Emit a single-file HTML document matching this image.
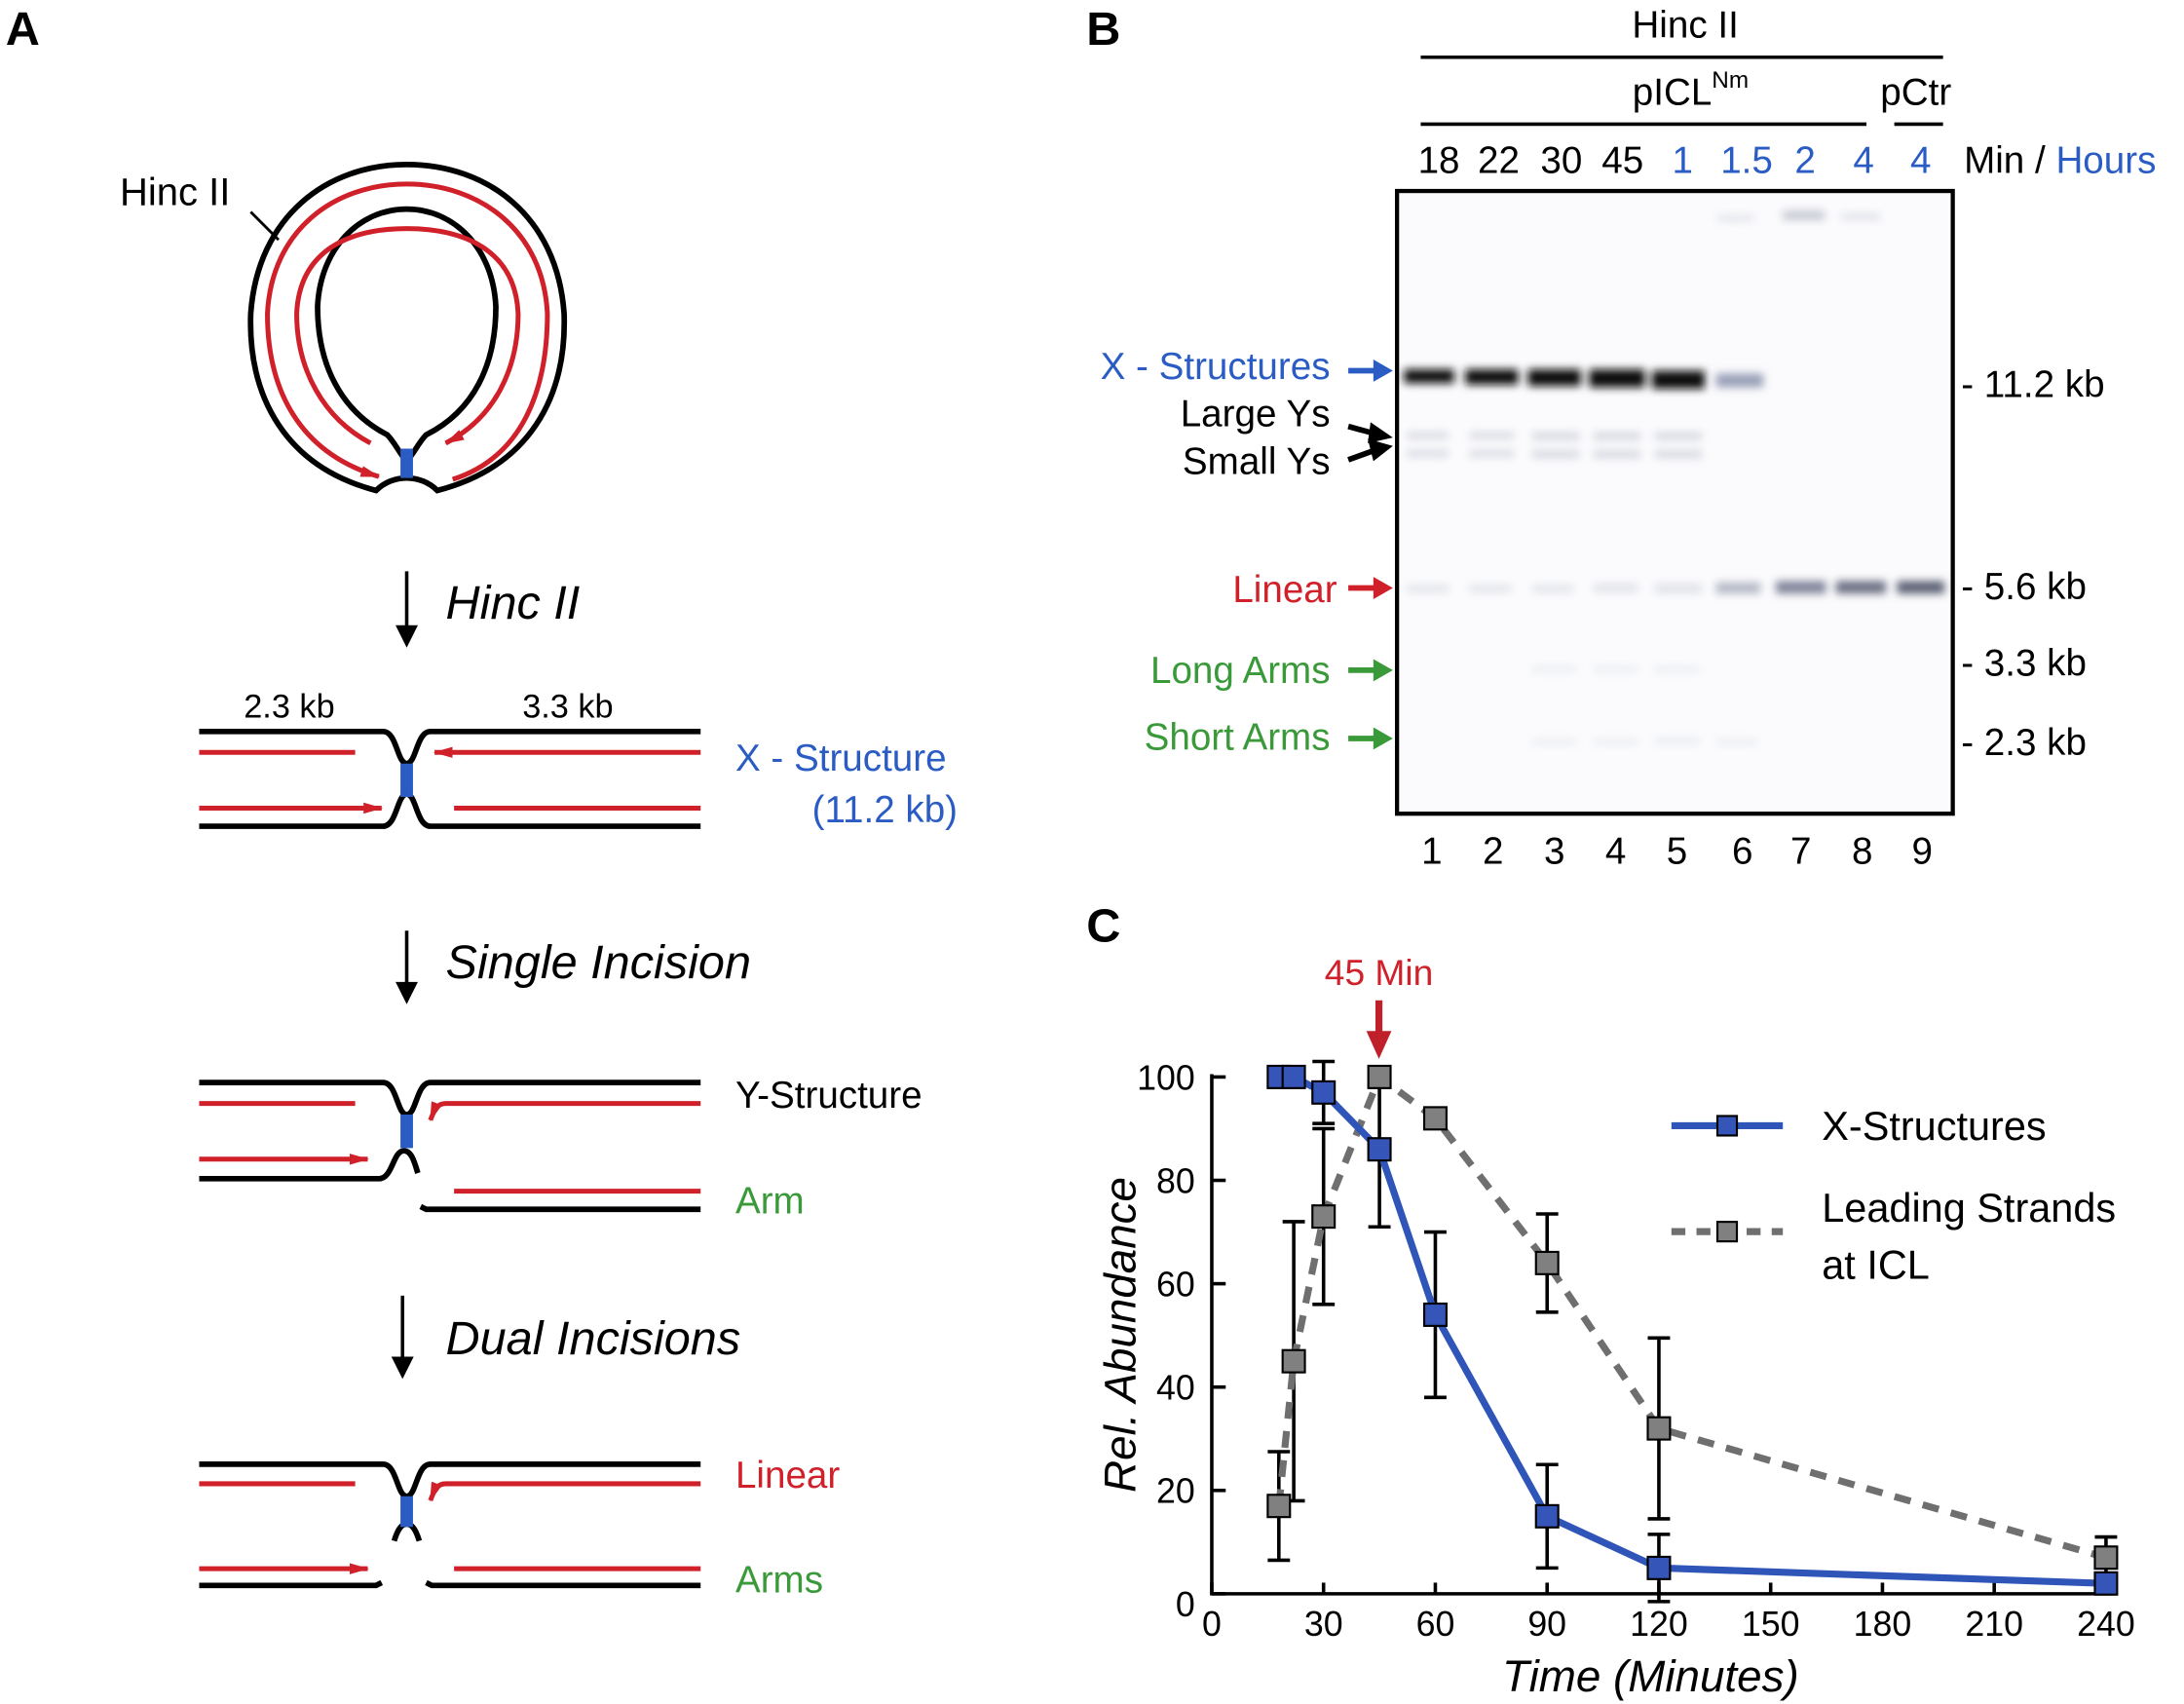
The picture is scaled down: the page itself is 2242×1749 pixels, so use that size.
<!DOCTYPE html>
<html><head><meta charset="utf-8"><style>
html,body{margin:0;padding:0;background:#fff}
svg{display:block;font-family:"Liberation Sans",sans-serif}
</style></head><body>
<svg width="2242" height="1749" viewBox="0 0 1568 1223" xmlns="http://www.w3.org/2000/svg">
<defs>
<filter id="blur" x="-20%" y="-300%" width="140%" height="700%"><feGaussianBlur stdDeviation="3"/></filter>
<marker id="ra" markerUnits="userSpaceOnUse" markerWidth="14" markerHeight="8" refX="13" refY="4" orient="auto"><path d="M0,0 L14,4 L0,8 z" fill="#d0202a"/></marker>
</defs>
<text x="4" y="32" font-size="34" font-weight="bold">A</text>
<text x="780" y="32" font-size="34" font-weight="bold">B</text>
<text x="780" y="676" font-size="34" font-weight="bold">C</text>

<g fill="none" stroke-width="4">
<path d="M270,352 C205,335 178,285 180,225 C185,155 235,118 292,118 C350,118 400,155 405,225 C407,285 380,335 314,352 C302,340 282,340 270,352 Z" stroke="#000"/>
<path d="M278,312 C245,295 228,262 228,220 C230,178 258,150 292,150 C326,150 354,178 356,220 C356,262 340,295 306,312 C300,318 296,328 292,330 C288,328 284,318 278,312 Z" stroke="#000"/>
<path d="M325,344 C375,328 393,280 393,225 C390,165 344,132 292,132 C240,132 195,165 192,225 C192,280 215,325 272,342" stroke="#d0202a" stroke-width="3.5" marker-end="url(#ra)"/>
<path d="M266,318 C232,300 213,265 213,225 C215,180 250,164 292,164 C334,164 370,180 372,225 C372,265 355,300 320,318" stroke="#d0202a" stroke-width="3.5" marker-end="url(#ra)"/>
<line x1="292" y1="322" x2="292" y2="343" stroke="#2a5cc4" stroke-width="9"/>
<line x1="180" y1="152" x2="200" y2="172" stroke="#000" stroke-width="2"/>
</g>
<text x="86" y="147" font-size="28">Hinc II</text>

<g stroke="#000" stroke-width="2.5">
<line x1="292" y1="410" x2="292" y2="460"/><path d="M286,450 L292,462 L298,450 z" fill="#000"/>
<line x1="292" y1="668" x2="292" y2="716"/><path d="M286,706 L292,718 L298,706 z" fill="#000"/>
<line x1="289" y1="930" x2="289" y2="985"/><path d="M283,975 L289,987 L295,975 z" fill="#000"/>
</g>
<g font-size="34" font-style="italic">
<text x="320" y="444">Hinc II</text>
<text x="320" y="702">Single  Incision</text>
<text x="320" y="972">Dual Incisions</text>
</g>

<g fill="none" stroke-width="4">
<path d="M143,525 L275,525 C285,525 285,548 292,548 C299,548 299,525 309,525 L503,525" stroke="#000"/>
<path d="M143,593 L275,593 C285,593 285,570 292,570 C299,570 299,593 309,593 L503,593" stroke="#000"/>
<line x1="292" y1="548" x2="292" y2="572" stroke="#2a5cc4" stroke-width="9"/>
<line x1="143" y1="540" x2="255" y2="540" stroke="#d0202a" stroke-width="3.5"/>
<line x1="503" y1="540" x2="312" y2="540" stroke="#d0202a" stroke-width="3.5" marker-end="url(#ra)"/>
<line x1="143" y1="580" x2="274" y2="580" stroke="#d0202a" stroke-width="3.5" marker-end="url(#ra)"/>
<line x1="326" y1="580" x2="503" y2="580" stroke="#d0202a" stroke-width="3.5"/>
</g>
<text x="175" y="515" font-size="24">2.3 kb</text>
<text x="375" y="515" font-size="24">3.3 kb</text>
<text x="528" y="553" font-size="27" fill="#2a5cc4">X - Structure</text>
<text x="583" y="590" font-size="27" fill="#2a5cc4">(11.2 kb)</text>

<g fill="none" stroke-width="4">
<path d="M143,777 L275,777 C285,777 285,800 292,800 C299,800 299,777 309,777 L503,777" stroke="#000"/>
<path d="M143,846 L272,846 C282,846 282,826 290,826 C296,826 298,836 300,842" stroke="#000"/>
<path d="M302,866 L306,868 L503,868" stroke="#000"/>
<line x1="292" y1="800" x2="292" y2="824" stroke="#2a5cc4" stroke-width="9"/>
<line x1="143" y1="792" x2="255" y2="792" stroke="#d0202a" stroke-width="3.5"/>
<path d="M503,792 L320,792 C314,792 312,796 309,804" stroke="#d0202a" stroke-width="3.5" marker-end="url(#ra)"/>
<line x1="143" y1="832" x2="264" y2="832" stroke="#d0202a" stroke-width="3.5" marker-end="url(#ra)"/>
<line x1="326" y1="855" x2="503" y2="855" stroke="#d0202a" stroke-width="3.5"/>
</g>
<text x="528" y="795" font-size="27">Y-Structure</text>
<text x="528" y="871" font-size="27" fill="#3a9a3a">Arm</text>

<g fill="none" stroke-width="4">
<path d="M143,1051 L275,1051 C285,1051 285,1074 292,1074 C299,1074 299,1051 309,1051 L503,1051" stroke="#000"/>
<path d="M283,1106 C286,1096 289,1094 292,1094 C295,1094 298,1096 301,1106" stroke="#000"/>
<line x1="292" y1="1074" x2="292" y2="1096" stroke="#2a5cc4" stroke-width="9"/>
<path d="M143,1138 L270,1138 L274,1136" stroke="#000"/>
<path d="M306,1136 L310,1138 L503,1138" stroke="#000"/>
<line x1="143" y1="1065" x2="255" y2="1065" stroke="#d0202a" stroke-width="3.5"/>
<path d="M503,1065 L320,1065 C314,1065 312,1069 309,1077" stroke="#d0202a" stroke-width="3.5" marker-end="url(#ra)"/>
<line x1="143" y1="1126" x2="264" y2="1126" stroke="#d0202a" stroke-width="3.5" marker-end="url(#ra)"/>
<line x1="326" y1="1126" x2="503" y2="1126" stroke="#d0202a" stroke-width="3.5"/>
</g>
<text x="528" y="1068" font-size="27" fill="#d0202a">Linear</text>
<text x="528" y="1143" font-size="27" fill="#3a9a3a">Arms</text>

<text x="1210" y="27" font-size="27" text-anchor="middle">Hinc II</text>
<line x1="1020" y1="41" x2="1395" y2="41" stroke="#000" stroke-width="2.5"/>
<text x="1172" y="75" font-size="27">pICL<tspan dy="-12" font-size="17">Nm</tspan></text>
<line x1="1020" y1="89" x2="1340" y2="89" stroke="#000" stroke-width="2.5"/>
<text x="1350" y="75" font-size="27">pCtr</text>
<line x1="1360" y1="89" x2="1395" y2="89" stroke="#000" stroke-width="2.5"/>
<g font-size="27" text-anchor="middle">
<text x="1033" y="124">18</text><text x="1076" y="124">22</text><text x="1121" y="124">30</text><text x="1165" y="124">45</text>
<text x="1208" y="124" fill="#2a5cc4">1</text><text x="1254" y="124" fill="#2a5cc4">1.5</text><text x="1296" y="124" fill="#2a5cc4">2</text><text x="1338" y="124" fill="#2a5cc4">4</text><text x="1379" y="124" fill="#2a5cc4">4</text>
</g>
<text x="1410" y="124" font-size="27">Min / <tspan fill="#2a5cc4">Hours</tspan></text>
<g>
<rect x="1003" y="137" width="399" height="447" fill="#fbfbfd"/>
<g filter="url(#blur)">
<rect x="1008" y="265" width="36" height="10" fill="#111"/>
<rect x="1052" y="265" width="38" height="11" fill="#111"/>
<rect x="1097" y="265" width="38" height="12" fill="#111"/>
<rect x="1141" y="265" width="40" height="13" fill="#111"/>
<rect x="1186" y="266" width="38" height="13" fill="#111"/>
<rect x="1232" y="268" width="34" height="10" fill="#9aa0b8"/>
<g fill="#d8dae2">
<rect x="1010" y="310" width="30" height="5"/><rect x="1055" y="310" width="32" height="5"/><rect x="1100" y="310" width="34" height="6"/><rect x="1144" y="310" width="34" height="6"/><rect x="1188" y="310" width="34" height="6"/>
<rect x="1010" y="323" width="30" height="5"/><rect x="1055" y="323" width="32" height="5"/><rect x="1100" y="323" width="34" height="6"/><rect x="1144" y="323" width="34" height="6"/><rect x="1188" y="323" width="34" height="6"/>
</g>
<g fill="#e0e2e8">
<rect x="1010" y="420" width="30" height="5"/><rect x="1055" y="420" width="30" height="5"/><rect x="1100" y="420" width="30" height="5"/><rect x="1144" y="419" width="32" height="6"/><rect x="1188" y="419" width="34" height="7"/>
</g>
<rect x="1232" y="418" width="32" height="8" fill="#b4b8c6"/>
<rect x="1275" y="417" width="36" height="9" fill="#80849a"/>
<rect x="1318" y="417" width="36" height="9" fill="#6a6e82"/>
<rect x="1362" y="417" width="34" height="9" fill="#5a5e72"/>
<g fill="#eceef2">
<rect x="1100" y="478" width="32" height="5"/><rect x="1144" y="478" width="32" height="5"/><rect x="1188" y="478" width="32" height="5"/>
<rect x="1100" y="530" width="32" height="5"/><rect x="1144" y="530" width="32" height="5"/><rect x="1188" y="529" width="32" height="6"/><rect x="1232" y="530" width="30" height="5"/>
</g>
<rect x="1233" y="154" width="26" height="5" fill="#e4e6ec"/>
<rect x="1280" y="151" width="30" height="7" fill="#c8cad4"/>
<rect x="1322" y="153" width="28" height="5" fill="#e0e2e8"/>
</g>
<rect x="1003" y="137" width="399" height="447" fill="none" stroke="#000" stroke-width="3"/>
</g>
<g font-size="27">
<text x="1408" y="285">- 11.2 kb</text><text x="1408" y="430">- 5.6 kb</text><text x="1408" y="485">- 3.3 kb</text><text x="1408" y="542">- 2.3 kb</text>
</g>
<g font-size="27" text-anchor="end">
<text x="955" y="272" fill="#2a5cc4">X - Structures</text>
<text x="955" y="306">Large Ys</text>
<text x="955" y="340">Small Ys</text>
<text x="960" y="432" fill="#d0202a">Linear</text>
<text x="955" y="490" fill="#3a9a3a">Long Arms</text>
<text x="955" y="538" fill="#3a9a3a">Short Arms</text>
</g>
<g stroke-width="4">
<line x1="968" y1="266" x2="990" y2="266" stroke="#2a5cc4"/><path d="M986,258 L1000,266 L986,274 z" fill="#2a5cc4"/>
<line x1="968" y1="306" x2="990" y2="312" stroke="#000"/><path d="M984,303 L1000,314 L982,318 z" fill="#000"/>
<line x1="968" y1="330" x2="990" y2="322" stroke="#000"/><path d="M982,315 L1000,320 L986,331 z" fill="#000"/>
<line x1="968" y1="422" x2="990" y2="422" stroke="#d0202a"/><path d="M986,414 L1000,422 L986,430 z" fill="#d0202a"/>
<line x1="968" y1="481" x2="990" y2="481" stroke="#3a9a3a"/><path d="M986,473 L1000,481 L986,489 z" fill="#3a9a3a"/>
<line x1="968" y1="530" x2="990" y2="530" stroke="#3a9a3a"/><path d="M986,522 L1000,530 L986,538 z" fill="#3a9a3a"/>
</g>
<g font-size="27" text-anchor="middle">
<text x="1028" y="620">1</text><text x="1072" y="620">2</text><text x="1116" y="620">3</text><text x="1160" y="620">4</text><text x="1204" y="620">5</text><text x="1251" y="620">6</text><text x="1293" y="620">7</text><text x="1337" y="620">8</text><text x="1380" y="620">9</text>
</g>

<g id="chart"></g>
<text x="990" y="707" font-size="26" fill="#d0202a" text-anchor="middle">45 Min</text>
<line x1="990" y1="718" x2="990" y2="745" stroke="#c0202a" stroke-width="5"/>
<path d="M981,740 L990,760 L999,740 z" fill="#c0202a"/>
<text transform="translate(815,958) rotate(-90)" font-size="32" font-style="italic" text-anchor="middle">Rel. Abundance</text>
<text x="1185" y="1214" font-size="32" font-style="italic" text-anchor="middle">Time (Minutes)</text>
<g>
<line x1="1200" y1="808" x2="1280" y2="808" stroke="#2f55b8" stroke-width="5"/>
<rect x="1233" y="801" width="14" height="14" fill="#3556b8" stroke="#000" stroke-width="1.5"/>
<text x="1308" y="818" font-size="29">X-Structures</text>
<line x1="1200" y1="884" x2="1280" y2="884" stroke="#6f6f6f" stroke-width="5" stroke-dasharray="10,8"/>
<rect x="1233" y="877" width="14" height="14" fill="#808080" stroke="#000" stroke-width="1.5"/>
<text x="1308" y="877" font-size="29">Leading Strands</text>
<text x="1308" y="918" font-size="29">at ICL</text>
</g>
<script>
const times = [18, 22, 30, 45, 60, 90, 120, 240];
const xStruct = [100, 100, 97, 86, 54, 15, 5, 2];
const xErr = [0, 0, 6, 15, 16, 10, 6.5, 0];
const lead = [17, 45, 73, 100, 92, 64, 32, 7];
const leadErr = [10.5, 27, 17, 0, 0, 9.5, 17.5, 4];
const xTicks = [0, 30, 60, 90, 120, 150, 180, 210, 240];
const yTicks = [0, 20, 40, 60, 80, 100];
const NS = 'http://www.w3.org/2000/svg';
const g = document.getElementById('chart');
const X = t => 870 + t * 642 / 240;
const Y = v => 1144 - v * 3.71;
function mk(tag, attrs) { const e = document.createElementNS(NS, tag); for (const k in attrs) e.setAttribute(k, attrs[k]); g.appendChild(e); return e; }
let ax = mk('path', {d: `M${X(0)},${Y(100)-2} L${X(0)},${Y(0)} L${X(240)+6},${Y(0)}`, fill: 'none', stroke: '#000', 'stroke-width': 2.5});


xTicks.forEach(t => {
  const l = mk('line', {x1: X(t), x2: X(t), y1: Y(0), y2: Y(0) - 8, stroke: '#000', 'stroke-width': 2.5});
  
  
  const tx = mk('text', {x: X(t), y: Y(0) + 30, 'font-size': 25, 'text-anchor': 'middle'});
  tx.textContent = t;
  
  
});
yTicks.forEach(v => {
  const l = mk('line', {x1: X(0), x2: X(0) + 10, y1: Y(v), y2: Y(v), stroke: '#000', 'stroke-width': 2.5});
  
  
  const tx = mk('text', {x: X(0) - 12, y: Y(v) + (v === 0 ? 16 : 9), 'font-size': 25, 'text-anchor': 'end'});
  tx.textContent = v;
  
  
});
function err(vals, errs, name) {
  vals.forEach((v, i) => {
    if (!errs[i]) return;
    const x = X(times[i]);
    const d = `M${x},${Y(v + errs[i])} L${x},${Y(v - errs[i])} M${x-8},${Y(v + errs[i])} L${x+8},${Y(v + errs[i])} M${x-8},${Y(v - errs[i])} L${x+8},${Y(v - errs[i])}`;
    const p = mk('path', {d: d, stroke: '#000', 'stroke-width': 2.5, fill: 'none'});
    
    
  });
}
err(lead, leadErr, 'leading-error-bar');
err(xStruct, xErr, 'x-structure-error-bar');
function series(vals, color, fill, dash, name) {
  const pts = vals.map((v, i) => X(times[i]) + ',' + Y(v)).join(' ');
  const pl = mk('polyline', {points: pts, fill: 'none', stroke: color, 'stroke-width': 5, 'stroke-dasharray': dash});
  
  
  vals.forEach((v, i) => {
    const r = mk('rect', {x: X(times[i]) - 8, y: Y(v) - 8, width: 16, height: 16, fill: fill, stroke: '#000', 'stroke-width': 1.5});
    
    
  });
}
series(lead, '#6f6f6f', '#808080', '12,9', 'leading-strands');
series(xStruct, '#2f55b8', '#3556b8', 'none', 'x-structures');
</script>
</svg>
</body></html>
